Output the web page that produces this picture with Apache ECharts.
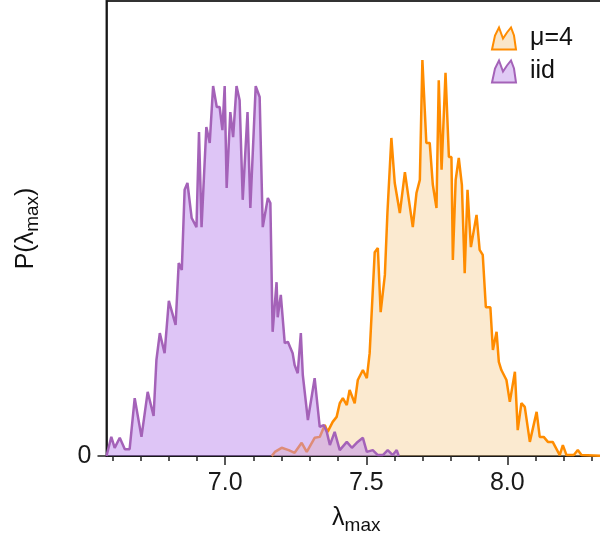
<!DOCTYPE html>
<html>
<head>
<meta charset="utf-8">
<script src="https://cdn.jsdelivr.net/npm/echarts@6/dist/echarts.min.js"></script>
<style>html,body{margin:0;padding:0;background:#fff}#c{width:600px;height:533px}</style>
</head>
<body>
<div id="c"></div>
<script>
// Series names
const seriesNames = ['μ=4', 'iid'];
// iid distribution: [lambda_max, P]
const iidData = [
[6.579,0],[6.596,4.2],[6.608,1.8],[6.626,4.0],[6.644,1.5],[6.661,1.5],[6.679,12.7],[6.703,4.2],
[6.725,14.1],[6.746,8.8],[6.756,21.1],[6.768,27.0],[6.785,22.6],[6.800,34.1],[6.824,28.8],[6.835,42.4],
[6.846,40.9],[6.856,58.5],[6.866,60.0],[6.881,52.3],[6.898,50.3],[6.907,71.2],[6.916,50.3],[6.933,72.3],
[6.945,68.8],[6.957,81.3],[6.970,76.7],[6.980,76.7],[6.990,71.6],[6.998,81.3],[7.005,58.9],[7.018,75.6],
[7.028,70.1],[7.040,81.3],[7.051,78.2],[7.062,56.3],[7.079,75.6],[7.089,54.5],[7.108,81.3],[7.122,78.9],
[7.133,50.3],[7.151,56.7],[7.160,55.6],[7.168,27.3],[7.182,38.2],[7.186,30.5],[7.197,35.4],[7.211,24.8],
[7.222,25.1],[7.239,22.6],[7.246,20.0],[7.257,18.2],[7.268,27.0],[7.275,17.8],[7.293,7.9],[7.317,17.1],
[7.335,6.4],[7.349,6.8],[7.360,5.3],[7.371,2.4],[7.388,5.3],[7.406,1.3],[7.431,3.1],[7.449,1.8],
[7.466,2.9],[7.488,4.0],[7.502,0.9],[7.523,1.3],[7.541,0.2],[7.559,0.2],[7.576,1.3],[7.594,0.2],
[7.608,1.3],[7.615,0]
];
// mu=4 distribution: [lambda_max, P]
const mu4Data = [
[7.165,0],[7.176,0.9],[7.200,1.8],[7.225,1.3],[7.246,0.7],[7.271,2.9],[7.289,0.9],[7.317,4.0],
[7.335,4.2],[7.353,6.8],[7.363,5.3],[7.381,7.5],[7.395,8.6],[7.406,11.6],[7.417,12.7],[7.431,11.2],
[7.441,14.5],[7.459,11.6],[7.470,16.7],[7.488,18.9],[7.502,17.1],[7.512,22.6],[7.530,44.8],[7.541,45.7],
[7.551,31.6],[7.566,39.8],[7.575,53.4],[7.589,69.9],[7.601,60.0],[7.619,53.4],[7.637,62.4],[7.651,56.3],
[7.665,50.3],[7.678,57.8],[7.690,60.7],[7.699,87.0],[7.713,68.8],[7.725,68.8],[7.736,59.6],[7.749,54.5],
[7.757,82.6],[7.767,62.9],[7.781,84.2],[7.793,65.7],[7.802,65.7],[7.807,43.1],[7.817,60.7],[7.828,65.5],
[7.839,59.6],[7.849,40.2],[7.859,58.5],[7.871,45.9],[7.891,53.0],[7.902,45.3],[7.913,44.2],[7.924,32.7],
[7.940,32.7],[7.949,23.3],[7.962,27.3],[7.970,20.7],[7.979,18.9],[7.997,16.7],[8.009,11.9],[8.027,18.5],
[8.037,5.7],[8.050,11.6],[8.062,10.8],[8.080,3.1],[8.104,9.7],[8.115,4.2],[8.129,4.2],[8.144,3.1],
[8.161,3.1],[8.186,0.2],[8.197,2.4],[8.210,0.2],[8.236,0.2],[8.250,1.3],[8.263,0.2],[8.350,0]
];
// Tick values
const xMajorTicks = [7.0, 7.5, 8.0];
const xMinorTicks = [6.6, 6.7, 6.8, 6.9, 7.1, 7.2, 7.3, 7.4, 7.6, 7.7, 7.8, 7.9, 8.1, 8.2, 8.3];
const yTicks = [0];

const FONT = 'Liberation Sans, Arial, sans-serif';
const orangeLine = '#ff8c00', orangeFill = 'rgba(246,208,150,0.45)';
const purpleLine = '#a462b8', purpleFill = 'rgba(190,140,238,0.5)';
const iconPath = 'path://M0,22 L3,8 L7,0 L11,11 L15,5 L19,0 L22,8 L24,22 Z';

const chart = echarts.init(document.getElementById('c'), null, {renderer: 'canvas'});
const xMin = 6.579, xMax = 8.35;
const titleRich = {
  a: {fontFamily: FONT, fontSize: 25, color: '#111'},
  s: {fontFamily: FONT, fontSize: 19, color: '#111', verticalAlign: 'bottom', padding: [14,0,0,0]}
};
chart.setOption({
  animation: false,
  backgroundColor: '#fff',
  grid: {left: 106.5, right: -6, top: 1, bottom: 77, show: true, borderColor: '#333', borderWidth: 2,
         containLabel: false, outerBoundsMode: 'none'},
  legend: {
    orient: 'vertical', left: 486, top: 21, itemWidth: 30, itemHeight: 22, itemGap: 8,
    icon: iconPath,
    textStyle: {fontFamily: FONT, fontSize: 25, color: '#111', padding: [0,0,0,6]},
    data: [
      {name: seriesNames[0], itemStyle: {color: 'rgb(250,230,200)', borderColor: orangeLine, borderWidth: 2}},
      {name: seriesNames[1], itemStyle: {color: 'rgb(224,202,245)', borderColor: purpleLine, borderWidth: 2}}
    ]
  },
  xAxis: [{
    type: 'value', min: xMin, max: xMax,
    name: '{a|λ}{s|max}', nameLocation: 'middle', nameGap: 46,
    nameTextStyle: {rich: titleRich},
    axisLine: {show: true, onZero: false, lineStyle: {color: '#111', width: 1.5}},
    axisTick: {show: true, length: 9, customValues: xMajorTicks, lineStyle: {color: '#222', width: 1.5}},
    axisLabel: {customValues: xMajorTicks, formatter: v => v.toFixed(1), fontFamily: FONT, fontSize: 25, color: '#1a1a1a', margin: 15},
    splitLine: {show: false}
  }, {
    type: 'value', min: xMin, max: xMax, position: 'bottom',
    axisLine: {show: false},
    axisTick: {show: true, length: 5, customValues: xMinorTicks, lineStyle: {color: '#222', width: 1.5}},
    axisLabel: {show: false},
    splitLine: {show: false}
  }],
  yAxis: {
    type: 'value', min: 0, max: 100,
    name: '{a|P(λ}{s|max}{a|)}', nameLocation: 'middle', nameGap: 64,
    nameTextStyle: {rich: titleRich},
    axisLine: {show: true, lineStyle: {color: '#111', width: 1.5}},
    axisTick: {show: true, length: 9, customValues: yTicks, lineStyle: {color: '#222', width: 1.5}},
    axisLabel: {customValues: yTicks, fontFamily: FONT, fontSize: 25, color: '#1a1a1a', margin: 15},
    splitLine: {show: false}
  },
  series: [{
    name: seriesNames[0], type: 'line', data: mu4Data, showSymbol: false, symbol: 'none',
    lineStyle: {color: orangeLine, width: 2.5}, itemStyle: {color: orangeLine},
    areaStyle: {color: orangeFill, opacity: 1}, z: 2
  }, {
    name: seriesNames[1], type: 'line', data: iidData, showSymbol: false, symbol: 'none',
    lineStyle: {color: purpleLine, width: 2.5}, itemStyle: {color: purpleLine},
    areaStyle: {color: purpleFill, opacity: 1}, z: 3
  }]
});
</script>
</body>
</html>
